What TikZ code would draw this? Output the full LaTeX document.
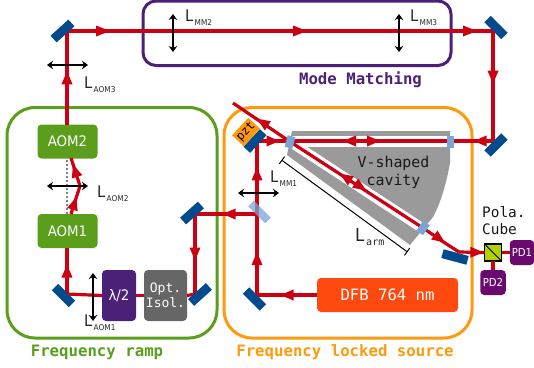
\documentclass[tikz,border=0pt]{standalone}
\usepackage{fontspec}
\setmainfont[FakeStretch=0.92]{DejaVu Sans}
\setmonofont{DejaVu Sans Mono}
\usetikzlibrary{arrows.meta,decorations.markings}
\definecolor{cgreen}{HTML}{5A9E1B}
\definecolor{cpurple}{HTML}{4B2177}
\definecolor{corange}{HTML}{FF9A0F}
\definecolor{cred}{HTML}{CC0011}
\definecolor{cblue}{HTML}{004B8D}
\definecolor{clight}{HTML}{7AA5D6}
\definecolor{cgray}{HTML}{666666}
\definecolor{ccav}{HTML}{9A9A9A}
\definecolor{cdfb}{HTML}{FF4A0F}
\definecolor{cpbs}{HTML}{B2D200}
\definecolor{cpd}{HTML}{6A0A6E}
\tikzset{
  x=1pt,y=-1pt,
  frame/.style={draw,line width=3pt,rounded corners=#1,fill=none},
  beam/.style={draw=cred,line width=3.2pt},
  tipat/.style={postaction={decorate,decoration={markings,mark=at position #1 with {\fill[cred] (6.5pt,0)--(-6.5pt,5.5pt)--(-6.5pt,-5.5pt)--cycle;}}}},
  mirror/.style={fill=cblue,minimum width=24pt,minimum height=9pt,inner sep=0,outer sep=0},
  cavmirror/.style={fill=clight,minimum width=12pt,minimum height=8pt,inner sep=0,outer sep=0},
  lens/.style={{Stealth[length=6pt,width=8.5pt]}-{Stealth[length=6pt,width=8.5pt]},line width=2.2pt,black},
  optbox/.style={rounded corners=4pt,inner sep=0,outer sep=0,text=white,align=center},
  lab/.style={inner sep=0,outer sep=0,anchor=base west,text=black!85,font=\fontsize{16}{16}\selectfont},
  title/.style={inner sep=0,font=\ttfamily\bfseries\fontsize{15.7}{16}\selectfont},
}
\newcommand{\lbl}[2]{#1\kern1.5pt\raisebox{-4.5pt}{\fontsize{8}{9}\selectfont #2}}
\begin{document}
\begin{tikzpicture}
\useasboundingbox (0,0) rectangle (534,367);
% cavity
\fill[ccav] (292,131)--(450,131)--(450,163) .. controls (447,180) and (441,203) .. (433,217)--(410,245)--(287,155)--cycle;
\fill[white] (292,136)--(449,136)--(449,147)--(292,147)--cycle;
\fill[white] (286.25,145.15)--(291.75,136.85)--(426.25,224.85)--(420.75,233.15)--cycle;
% frames
\draw[frame=13pt,cpurple] (143,1) rectangle (451,65.5);
\draw[frame=28pt,cgreen] (7,107.5) rectangle (217,338);
\draw[frame=28pt,corange] (224,107.5) rectangle (472,338);
% named points
\coordinate (mTL) at (67,31);
\coordinate (mTR) at (493,31);
\coordinate (mCR) at (493,141);
\coordinate (c1) at (289,141);
\coordinate (c2) at (450,141);
\coordinate (c3) at (423,228);
\coordinate (free) at (233,103);
\coordinate (pztb) at (257,141);
\coordinate (bs) at (257,214);
\coordinate (mBL) at (257,295);
\coordinate (mR1) at (195,214);
\coordinate (mR2) at (195,294);
\coordinate (mL) at (67,294);
\coordinate (bend) at (80,186);
\coordinate (kink) at (459,252);
% optical boxes
\node[optbox,fill=cdfb,minimum width=141pt,minimum height=34pt,font=\ttfamily\fontsize{15.6}{16}\selectfont] (dfb) at (387.5,295) {DFB 764 nm};
\node[optbox,fill=cgreen,minimum width=60pt,minimum height=34pt,font=\fontsize{14.5}{15}\selectfont] (aomb) at (67.5,231) {AOM1};
\node[optbox,fill=cgreen,minimum width=60pt,minimum height=34pt,font=\fontsize{14.5}{15}\selectfont] (aomt) at (67.5,141.5) {AOM2};
\node[optbox,fill=cpurple,minimum width=34pt,minimum height=51pt,font=\fontsize{14.5}{15}\selectfont] (hwp) at (119,295.5) {λ/2};
\node[optbox,fill=cgray,minimum width=43pt,minimum height=51pt,font=\ttfamily\fontsize{13}{15.5}\selectfont] (iso) at (165.5,295.5) {Opt.\\Isol.};
\node[draw=black,line width=1.2pt,fill=cpbs,minimum size=17pt,inner sep=0,outer sep=0] (pbs) at (493,252.5) {};
\node[optbox,fill=cpd,minimum width=24.5pt,minimum height=25pt,font=\fontsize{11}{11}\selectfont] (pd1) at (522,252.5) {PD1};
\node[optbox,fill=cpd,minimum width=25.5pt,minimum height=25pt,font=\fontsize{11}{11}\selectfont] (pd2) at (493,282.5) {PD2};
% beams
\path[beam,tipat=0.5] (mL) -- (aomb.south -| mL);
\path[beam,tipat=0.5] (aomt.north -| mTL) -- (mTL);
\draw[gray,dashed,dash pattern=on 2pt off 2pt,line width=1.2pt] (aomb.north -| mL) -- (aomt.south -| mL);
\path[beam,tipat=0.38] (71,214) -- (bend);
\path[beam,tipat=0.55] (bend) -- (71,158);
\path[beam] (mTL) -- (mTR);
\foreach \xx in {103,300,470}{\fill[cred] (\xx+7,31)--(\xx-7,25.5)--(\xx-7,36.5)--cycle;}
\path[beam,tipat=0.42] (mTR) -- (mCR);
\path[beam,tipat=0.3] (mCR) -- (c2);
\path[beam] (c2) -- (c1);
\fill[cred] (343,141)--(356,135.5)--(356,146.5)--cycle;
\fill[cred] (380,141)--(367,135.5)--(367,146.5)--cycle;
\path[beam] (c1) -- (c3);
\path[beam] (c1) -- (free);
\fill[cred,rotate around={-33.5:(262,122)}] (256,122)--(269,116.5)--(269,127.5)--cycle;
\fill[cred,rotate around={-33.5:(345,177)}] (339,177)--(352,171.5)--(352,182.5)--cycle;
\fill[cred,rotate around={-33.5:(361,187)}] (367,187)--(354,181.5)--(354,192.5)--cycle;
\path[beam] (c3) -- (448,245) -- (kink);
\fill[cred,rotate around={-35:(440,239)}] (446,239)--(433,233.5)--(433,244.5)--cycle;
\path[beam,tipat=0.7] (kink) -- (pbs.west);
\path[beam] (pbs.east) -- (pd1.west);
\path[beam] (pbs.south) -- (pd2.north);
\path[beam,tipat=0.5] (dfb.west) -- (mBL);
\path[beam,tipat=0.45] (mBL) -- (bs);
\path[beam,tipat=0.55] (bs) -- (pztb);
\path[beam,tipat=0.5] (pztb) -- (c1);
\path[beam,tipat=0.45] (bs) -- (mR1);
\path[beam,tipat=0.5] (mR1) -- (mR2);
\path[beam] (mR2) -- (iso.east);
\path[beam] (iso.west) -- (hwp.east);
\path[beam] (hwp.west) -- (mL);
% mirrors
\node[mirror,rotate=42] (m1) at (62.5,31) {};
\node[mirror,rotate=-45] (m2) at (496,27.5) {};
\node[mirror,rotate=45] (m3) at (496,145) {};
\node[mirror,rotate=-45] (m4) at (63.5,295.5) {};
\node[mirror,rotate=42] (m5) at (200,294.5) {};
\node[mirror,rotate=42] (m6) at (192,213) {};
\node[mirror,rotate=-45] (m7) at (254.5,299) {};
\node[mirror,rotate=-15,minimum width=26pt] (m8) at (455,257) {};
\node[mirror,rotate=47] (m9) at (255,141) {};
\node[fill=corange,rotate=47,minimum width=24pt,minimum height=16pt,inner sep=0,font=\ttfamily\fontsize{12}{12}\selectfont] (pzt) at (246,132) {pzt};
\node[fill=clight,opacity=.75,rotate=-45,minimum width=24pt,minimum height=8pt,inner sep=0] (bsn) at (259.5,212) {};
\node[cavmirror,rotate=75] (cm1) at (290,142) {};
\node[cavmirror,rotate=90,minimum height=7pt] (cm2) at (450,141.5) {};
\node[cavmirror,rotate=57] (cm3) at (423,228) {};
% PBS diagonal
\draw[black,line width=1pt] (pbs.north west) -- (pbs.south east);
% lenses
\draw[lens] (47,65)--(88,65);
\draw[lens] (47,186)--(88,186);
\draw[lens] (93,273)--(93,321);
\draw[lens] (238,193)--(279,193);
\draw[lens] (173,14)--(173,52);
\draw[lens] (399,14)--(399,52);
% arm dimension
\draw[black,line width=1pt,{Bar[width=9pt,length=0pt]}-{Bar[width=9pt,length=0pt]}] (281.5,160) -- (407.5,252);
% labels
\node[lab] (l1) at (84,88) {\lbl{L}{AOM3}};
\node[lab] (l2) at (97,197) {\lbl{L}{AOM2}};
\node[lab] (l3) at (84,326) {\lbl{L}{AOM1}};
\node[lab] (l4) at (270,182) {\lbl{L}{MM1}};
\node[lab] (l5) at (185,21) {\lbl{L}{MM2}};
\node[lab] (l6) at (410,21) {\lbl{L}{MM3}};
\node[lab,font=\fontsize{18}{18}\selectfont] (l7) at (355,241) {L\kern2pt\raisebox{-4.5pt}{\ttfamily\fontsize{10}{10}\selectfont arm}};
\node[inner sep=0,align=center,text=black!90,font=\ttfamily\fontsize{14.9}{18}\selectfont] (cavt) at (393.5,172) {V-shaped\\cavity};
\node[inner sep=0,align=left,anchor=west,text=black!90,font=\ttfamily\fontsize{14.4}{17}\selectfont] (pola) at (482,220.5) {Pola.\\Cube};
\node[title,text=cpurple] (t1) at (360.5,80) {Mode Matching};
\node[title,text=cgreen] (t2) at (97,352) {Frequency ramp};
\node[title,text=corange] (t3) at (345,352) {Frequency locked source};
\end{tikzpicture}
\end{document}
